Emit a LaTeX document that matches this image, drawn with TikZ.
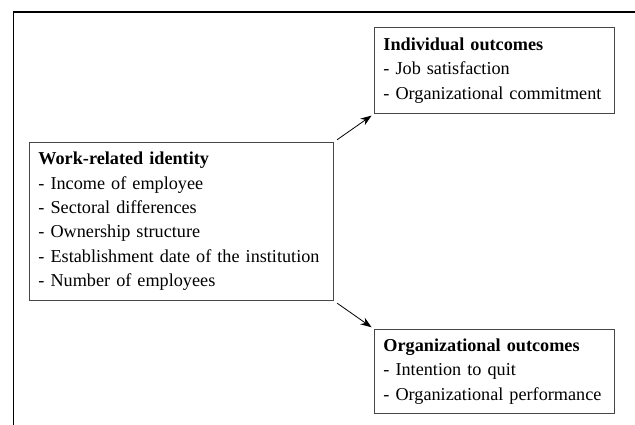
\documentclass[tikz,border=0pt]{standalone}
\usepackage{fontspec}
\setmainfont{Liberation Serif}
\usetikzlibrary{arrows.meta}
\definecolor{boxline}{RGB}{70,70,70}
\tikzset{
  infobox/.style={draw=boxline, line width=0.9pt, anchor=north west, inner xsep=9pt, inner ysep=0pt,
    align=left, font=\fontsize{18.2}{24.4}\selectfont, text=black},
  link/.style={draw=black, line width=0.8pt, -{Stealth[length=11pt,width=8pt]}, shorten <=4pt, shorten >=3pt}
}
\begin{document}
\begin{tikzpicture}[x=1pt,y=-1pt]
\useasboundingbox (0,0) rectangle (635,425);
\fill[white] (0,0) rectangle (635,425);
% outer frame (only top and left visible)
\coordinate (fbl) at (13.5,425);
\coordinate (ftl) at (13.5,12);
\coordinate (ftr) at (635,12);
\draw[line width=1.6pt] (fbl) -- (ftl) -- (ftr);
% boxes
\node[infobox, minimum width=304pt, minimum height=158pt, text width=286pt] (work) at (29,142)
  {\textbf{Work-related identity}\\- Income of employee\\- Sectoral differences\\- Ownership structure\\- Establishment date of the institution\\- Number of employees};
\node[infobox, minimum width=240pt, minimum height=86pt, text width=222pt] (ind) at (374,27)
  {\textbf{Individual outcomes}\\- Job satisfaction\\- Organizational commitment};
\node[infobox, minimum width=240pt, minimum height=84pt, text width=222pt] (org) at (374,329)
  {\textbf{Organizational outcomes}\\- Intention to quit\\- Organizational performance};
% connectors
\draw[link] (work.north east) -- (ind.south west);
\draw[link] (work.south east) -- (org.north west);
\end{tikzpicture}
\end{document}
